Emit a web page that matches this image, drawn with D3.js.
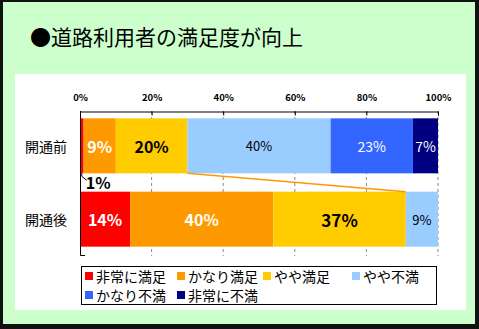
<!DOCTYPE html>
<html>
<head>
<meta charset="utf-8">
<script src="https://cdn.jsdelivr.net/npm/d3@7"></script>
<style>
  html, body { margin: 0; padding: 0; background: #fff; }
  svg { display: block; }
  text { font-family: "Noto Sans CJK JP", "Noto Sans", sans-serif; }
</style>
</head>
<body>
<svg id="chart" width="479" height="329"></svg>
<script>
// Satisfaction survey, before and after the road opened (percent of respondents)
const categories = ["開通前", "開通後"];
const seriesNames = ["非常に満足", "かなり満足", "やや満足", "やや不満", "かなり不満", "非常に不満"];
const valuesBefore = [1, 9, 20, 40, 23, 7];
const valuesAfter = [14, 40, 37, 9, 0, 0];
const tickValues = [0, 20, 40, 60, 80, 100];
const titleText = "●道路利用者の満足度が向上";

const colors = ["#ff0000", "#ff9900", "#ffcc00", "#99ccff", "#3366ff", "#000080"];
// label look per series: [fill, weight, size]
const labelStyle = [
  ["#fff", 700, 16], ["#fff", 700, 16], ["#000", 700, 16],
  ["#000", 400, 13], ["#fff", 400, 14], ["#fff", 400, 14]
];

const svg = d3.select("#chart");
const W = 479, H = 329;

// frame
svg.append("rect").attr("x", 0).attr("y", 0).attr("width", W).attr("height", H).attr("fill", "#111");
svg.append("rect").attr("x", 3).attr("y", 2).attr("width", 472).attr("height", 322).attr("fill", "#ccffcc");
svg.append("rect").attr("x", 15).attr("y", 74).attr("width", 451).attr("height", 236).attr("fill", "#fff");

svg.append("text").attr("x", 30).attr("y", 45)
  .attr("font-size", 21).attr("fill", "#000").text(titleText);

const x = d3.scaleLinear().domain([0, 100]).range([80, 438]);
const y = d3.scaleBand().domain(categories).range([111, 254]).paddingInner(0.25).paddingOuter(0.1);

const rows = [valuesBefore, valuesAfter].map((vals, i) => {
  let acc = 0;
  return vals.map((v, s) => {
    const seg = { cat: categories[i], s, v, x0: acc, x1: acc + v };
    acc += v;
    return seg;
  });
});

const g = svg.append("g");

// dashed gridlines
g.selectAll("line.grid").data(tickValues.slice(1)).join("line")
  .attr("x1", d => x(d)).attr("x2", d => x(d))
  .attr("y1", 111).attr("y2", 256)
  .attr("stroke", "#888").attr("stroke-width", 1).attr("stroke-dasharray", "3,3");

// top axis
const axis = d3.axisTop(x).tickValues(tickValues).tickFormat(d => d + "%").tickSize(-4).tickPadding(12);
const ax = g.append("g").attr("transform", "translate(0,111.5)").call(axis);
ax.select(".domain").attr("stroke", "#000");
ax.selectAll(".tick line").attr("stroke", "#000");
ax.selectAll(".tick text").attr("font-size", 9.5).attr("font-weight", 700)
  .attr("font-family", "'DejaVu Sans', sans-serif").attr("fill", "#000").attr("dy", "0.2em");

// bars
const segs = rows.flat().filter(d => d.v > 0);
g.selectAll("rect.bar").data(segs).join("rect")
  .attr("x", d => x(d.x0)).attr("width", d => x(d.x1) - x(d.x0))
  .attr("y", d => y(d.cat)).attr("height", y.bandwidth())
  .attr("fill", d => colors[d.s]);

// series line joining the やや満足 boundary between the two bars
const join = 2;
g.append("line")
  .attr("x1", x(rows[0][join].x1)).attr("y1", y(categories[0]) + y.bandwidth())
  .attr("x2", x(rows[1][join].x1)).attr("y2", y(categories[1]))
  .attr("stroke", "#ff9900").attr("stroke-width", 1.5);

// left axis
g.append("path")
  .attr("d", `M80.5,111 V255.5 H85`)
  .attr("fill", "none").attr("stroke", "#000");

// category labels
g.selectAll("text.cat").data(categories).join("text")
  .attr("x", 46).attr("y", d => y(d) + y.bandwidth() / 2)
  .attr("text-anchor", "middle").attr("dominant-baseline", "central")
  .attr("font-size", 14).attr("fill", "#000").text(d => d);

// value labels inside segments
const inside = segs.filter(d => d.v >= 5);
g.selectAll("text.val").data(inside).join("text")
  .attr("x", d => x((d.x0 + d.x1) / 2)).attr("y", d => y(d.cat) + y.bandwidth() / 2)
  .attr("text-anchor", "middle").attr("dominant-baseline", "central")
  .attr("font-family", "'Liberation Sans', Arial, sans-serif")
  .attr("fill", d => labelStyle[d.s][0])
  .attr("font-weight", d => (d.cat === categories[1] && d.s < 3) ? 700 : labelStyle[d.s][1])
  .attr("font-size", d => (d.cat === categories[1] && d.s === 2) ? 17 : labelStyle[d.s][2])
  .text(d => d.v + "%");

// small segment labelled below the bar with a leader
const small = segs.filter(d => d.v < 5);
small.forEach(d => {
  const bx = x((d.x0 + d.x1) / 2);
  const by = y(d.cat) + y.bandwidth();
  g.append("path").attr("d", `M${bx},${by} V${by + 3} L${bx + 5},${by + 7}`)
    .attr("fill", "none").attr("stroke", "#000");
  g.append("text").attr("x", bx + 4).attr("y", by + 9)
    .attr("dominant-baseline", "central")
    .attr("font-family", "'Liberation Sans', Arial, sans-serif")
    .attr("font-size", 16).attr("font-weight", 700).attr("fill", "#000")
    .text(d.v + "%");
});

// legend
const lg = svg.append("g");
lg.append("rect").attr("x", 81.5).attr("y", 266.5).attr("width", 355).attr("height", 38)
  .attr("fill", "#fff").attr("stroke", "#000");
const colX = [85, 177, 263, 352];
const items = lg.selectAll("g.item").data(seriesNames).join("g")
  .attr("transform", (d, i) => `translate(${colX[i % 4]},${i < 4 ? 276 : 295})`);
items.append("rect").attr("x", 0).attr("y", -4).attr("width", 8).attr("height", 8)
  .attr("fill", (d, i) => colors[i]);
items.append("text").attr("x", 11).attr("y", 0).attr("dominant-baseline", "central")
  .attr("font-size", 14).attr("fill", "#000").text(d => d);
</script>
</body>
</html>
